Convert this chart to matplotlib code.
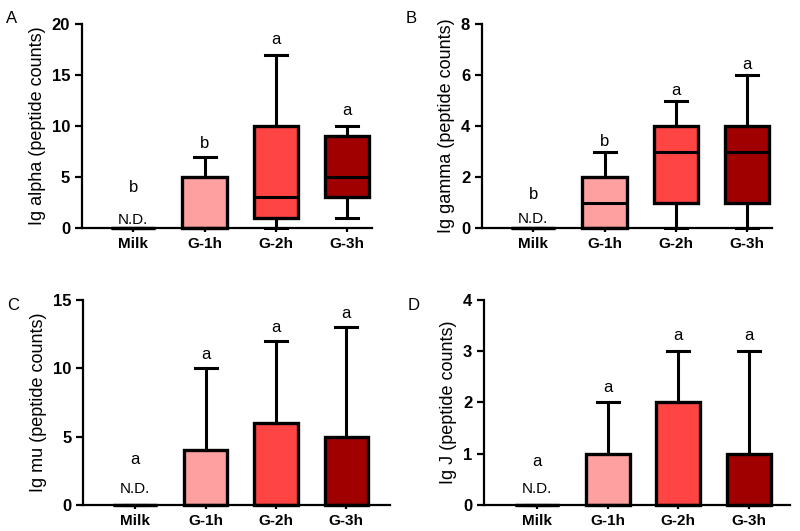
import matplotlib
matplotlib.use('Agg')
from matplotlib import pyplot as plt

plt.rcParams['font.family'] = ['Liberation Sans', 'DejaVu Sans']

groups = ['Milk', 'G-1h', 'G-2h', 'G-3h']
colors = ['#000000', '#FFA0A0', '#FF4444', '#A00000']

# box stats per group: (min, q1, median, q3, max)
alpha_stats = [(0, 0, 0, 0, 0), (0, 0, 0, 5, 7), (0, 1, 3, 10, 17), (1, 3, 5, 9, 10)]
gamma_stats = [(0, 0, 0, 0, 0), (0, 0, 1, 2, 3), (0, 1, 3, 4, 5), (0, 1, 3, 4, 6)]
mu_stats = [(0, 0, 0, 0, 0), (0, 0, 0, 4, 10), (0, 0, 0, 6, 12), (0, 0, 0, 5, 13)]
j_stats = [(0, 0, 0, 0, 0), (0, 0, 0, 1, 2), (0, 0, 0, 2, 3), (0, 0, 0, 1, 3)]

alpha_letters = ['b', 'b', 'a', 'a']
gamma_letters = ['b', 'b', 'a', 'a']
mu_letters = ['a', 'a', 'a', 'a']
j_letters = ['a', 'a', 'a', 'a']

alpha_letter_y = [4.0, 8.3, 18.5, 11.5]
gamma_letter_y = [1.3, 3.4, 5.4, 6.4]
mu_letter_y = [3.3, 11.0, 13.0, 14.0]
j_letter_y = [0.85, 2.3, 3.3, 3.3]

nd_y = {'A': 0.8, 'B': 0.35, 'C': 1.2, 'D': 0.32}

panels = [
    ('A', 'Ig alpha (peptide counts)', alpha_stats, alpha_letters, alpha_letter_y,
     [0, 5, 10, 15, 20], [0.1025, 0.5706, 0.3625, 0.3842], (-0.72, 3.35)),
    ('B', 'Ig gamma (peptide counts)', gamma_stats, gamma_letters, gamma_letter_y,
     [0, 2, 4, 6, 8], [0.6025, 0.5706, 0.3625, 0.3842], (-0.72, 3.35)),
    ('C', 'Ig mu (peptide counts)', mu_stats, mu_letters, mu_letter_y,
     [0, 5, 10, 15], [0.104, 0.049, 0.3835, 0.386], (-0.74, 3.62)),
    ('D', 'Ig J (peptide counts)', j_stats, j_letters, j_letter_y,
     [0, 1, 2, 3, 4], [0.605, 0.049, 0.3825, 0.386], (-0.75, 3.58)),
]

fig = plt.figure(figsize=(8, 5.31), dpi=100)

for tag, ylabel, stats, letters, letter_y, yticks, rect, xlim in panels:
    ax = fig.add_axes(rect)
    bstats = []
    for (lo, q1, med, q3, hi), name in zip(stats, groups):
        bstats.append({'whislo': lo, 'q1': q1, 'med': med, 'q3': q3,
                       'whishi': hi, 'label': name, 'fliers': []})
    bp = ax.bxp(bstats, positions=range(len(groups)), widths=0.62,
                patch_artist=True, showfliers=False,
                boxprops=dict(linewidth=2.4, edgecolor='black'),
                medianprops=dict(color='black', linewidth=2.2),
                whiskerprops=dict(color='black', linewidth=2.2),
                capprops=dict(color='black', linewidth=2.2),
                capwidths=0.31)
    for patch, c in zip(bp['boxes'], colors):
        patch.set_facecolor(c)
    for i, (lt, ly) in enumerate(zip(letters, letter_y)):
        ax.text(i, ly, lt, ha='center', va='center', fontsize=12)
    ax.text(0, nd_y[tag], 'N.D.', ha='center', va='center', fontsize=11)

    ax.set_xlim(*xlim)
    ax.set_ylim(0, yticks[-1])
    ax.set_yticks(yticks)
    ax.set_xticks(range(len(groups)))
    ax.set_xticklabels(groups, fontweight='bold', fontsize=11)
    for lbl in ax.get_yticklabels():
        lbl.set_fontweight('bold')
        lbl.set_fontsize(12)
    ax.set_ylabel(ylabel, fontsize=13)
    ax.spines['top'].set_visible(False)
    ax.spines['right'].set_visible(False)
    ax.spines['left'].set_linewidth(1.6)
    ax.spines['bottom'].set_linewidth(1.6)
    ax.tick_params(axis='y', width=1.6, length=5)
    ax.tick_params(axis='x', width=1.6, length=3)
    ax.set_clip_on(False)
    for art in ax.get_children():
        art.set_clip_on(False)

    x0 = rect[0] - 0.095
    y0 = rect[1] + rect[3] + 0.01 if tag in 'AB' else rect[1] + rect[3] - 0.01
    fig.text(x0, y0, tag, fontsize=12, ha='left', va='center')

fig.savefig('out.png', dpi=100)
